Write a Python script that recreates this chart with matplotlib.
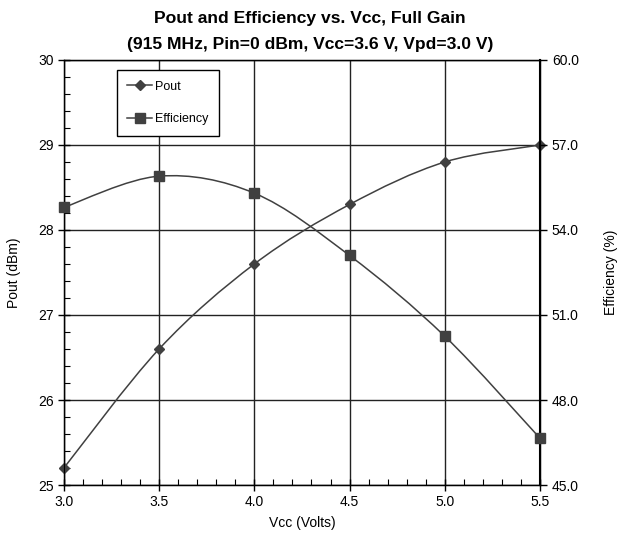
import matplotlib
matplotlib.use('Agg')
import matplotlib.pyplot as plt
from matplotlib.path import Path
from matplotlib.patches import PathPatch
from matplotlib.lines import Line2D
from matplotlib.ticker import MultipleLocator, FormatStrFormatter

plt.rcParams['font.family'] = ['Liberation Sans', 'DejaVu Sans']

vcc = [3.0, 3.5, 4.0, 4.5, 5.0, 5.5]
pout = [25.2, 26.6, 27.6, 28.3, 28.8, 29.0]
efficiency = [54.8, 55.9, 55.3, 53.1, 50.25, 46.65]

LINE = '#404040'


def smooth_path(xs, ys):
    # Excel-style smoothed line as cubic Bezier segments
    verts = [(xs[0], ys[0])]
    codes = [Path.MOVETO]
    n = len(xs)
    for i in range(n - 1):
        x0, y0 = (xs[i - 1], ys[i - 1]) if i > 0 else (xs[i], ys[i])
        x1, y1 = xs[i], ys[i]
        x2, y2 = xs[i + 1], ys[i + 1]
        x3, y3 = (xs[i + 2], ys[i + 2]) if i + 2 < n else (x2, y2)
        c1 = (x1 + (x2 - x0) / 6, y1 + (y2 - y0) / 6)
        c2 = (x2 - (x3 - x1) / 6, y2 - (y3 - y1) / 6)
        verts += [c1, c2, (x2, y2)]
        codes += [Path.CURVE4] * 3
    return Path(verts, codes)


fig = plt.figure(figsize=(6.2, 5.38), dpi=100)
ax = fig.add_axes([0.103, 0.0985, 0.768, 0.79])
ax2 = ax.twinx()

ax.set_xlim(3.0, 5.5)
ax.set_ylim(25, 30)
ax2.set_ylim(45, 60)

ax.add_patch(PathPatch(smooth_path(vcc, pout), fill=False, edgecolor=LINE, lw=1.1, zorder=3))
ax.plot(vcc, pout, ls='none', marker='D', ms=5, color=LINE, zorder=4, clip_on=False)
ax2.add_patch(PathPatch(smooth_path(vcc, efficiency), fill=False, edgecolor=LINE, lw=1.1, zorder=3))
ax2.plot(vcc, efficiency, ls='none', marker='s', ms=7.5, color=LINE, zorder=4, clip_on=False)

ax.xaxis.set_major_locator(MultipleLocator(0.5))
ax.xaxis.set_minor_locator(MultipleLocator(0.1))
ax.xaxis.set_major_formatter(FormatStrFormatter('%.1f'))
ax.yaxis.set_major_locator(MultipleLocator(1))
ax.yaxis.set_minor_locator(MultipleLocator(0.2))
ax2.yaxis.set_major_locator(MultipleLocator(3))
ax2.yaxis.set_major_formatter(FormatStrFormatter('%.1f'))

ax.tick_params(which='major', direction='inout', length=8, width=1, labelsize=10)
ax.tick_params(which='minor', direction='in', length=4, width=0.8)
ax2.tick_params(which='major', direction='out', length=5, width=1, labelsize=10)

ax.grid(True, which='major', color='#222222', lw=1)
for s in ax.spines.values():
    s.set_linewidth(1)
ax2.spines['right'].set_linewidth(1.5)

ax.set_xlabel('Vcc (Volts)', fontsize=10, labelpad=5)
ax.set_ylabel('Pout (dBm)', fontsize=10, labelpad=12)
ax2.set_ylabel('Efficiency (%)', fontsize=10, labelpad=18)

fig.text(0.5, 1 - 18 / 538, 'Pout and Efficiency vs. Vcc, Full Gain',
         ha='center', va='center', fontsize=12.6, fontweight='bold')
fig.text(0.5, 1 - 45 / 538, '(915 MHz, Pin=0 dBm, Vcc=3.6 V, Vpd=3.0 V)',
         ha='center', va='center', fontsize=12.6, fontweight='bold')

handles = [
    Line2D([], [], color=LINE, marker='D', ms=5, lw=1.1),
    Line2D([], [], color=LINE, marker='s', ms=7.5, lw=1.1),
]
leg = ax2.legend(handles, ['Pout', 'Efficiency'], loc='upper left',
                 bbox_to_anchor=(0.111, 0.976), fontsize=9, fancybox=False,
                 framealpha=1, edgecolor='black', handlelength=2.0,
                 labelspacing=1.65, borderpad=0.85, handletextpad=0.2,
                 borderaxespad=0)
leg.get_frame().set_linewidth(1)

fig.savefig('out.png', dpi=100)
